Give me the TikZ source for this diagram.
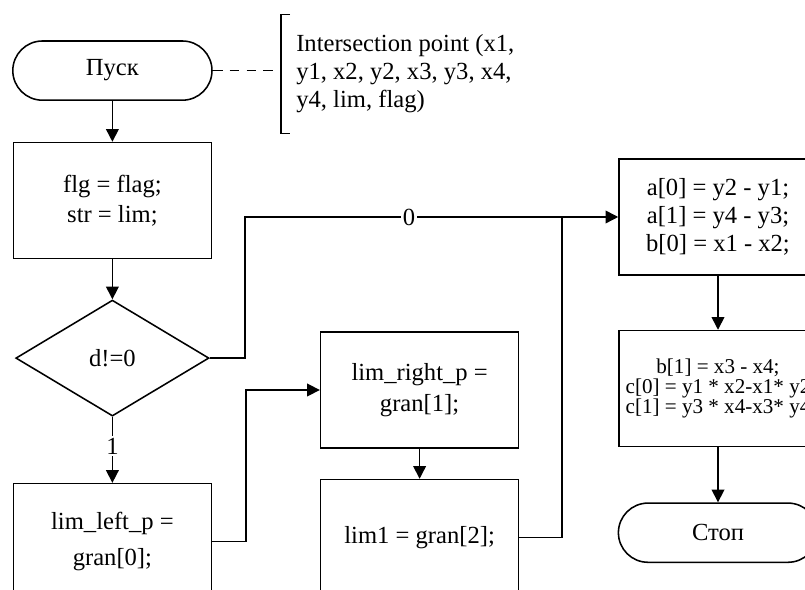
\documentclass[tikz,border=0pt]{standalone}
\usepackage{fontspec}
\setmainfont{Liberation Serif}
\usetikzlibrary{shapes.geometric,arrows.meta,positioning}

\begin{document}
\begin{tikzpicture}[
        node distance=1cm and 1.5cm,
        proc/.style={rectangle, draw=black, line width=1.1pt, minimum width=4.95cm, minimum height=2.9cm, align=center, font=\fontsize{17.5}{20}\selectfont},
        term/.style={rectangle, draw=black, line width=1.1pt, rounded corners=0.74cm, minimum width=4.98cm, minimum height=1.48cm, align=center, font=\fontsize{17.5}{20}\selectfont},
        cond/.style={diamond, draw=black, line width=1.1pt, minimum width=4.83cm, minimum height=2.9cm, inner sep=0pt, align=center, font=\fontsize{17.5}{20}\selectfont},
        note/.style={rectangle, minimum height=2.95cm, inner xsep=0.375cm, align=left, font=\fontsize{17.5}{20}\selectfont},
        lbl/.style={fill=white, inner sep=1.5pt, font=\fontsize{17.5}{20}\selectfont},
        arrow/.style={-{Triangle[length=9pt, width=9pt]}, line width=1.1pt},
        line/.style={line width=1.1pt},
        dline/.style={line width=1.1pt, dash pattern=on 7pt off 5pt}
    ]
        \clip (0,0) rectangle (20.125,14.725);

        % Left column
        \node[term] (start) at (2.81,12.96) {Пуск};
        \node[proc, below=1.02cm of start, font=\fontsize{17.5}{21}\selectfont] (init) {flg = flag;\\ str = lim;};
        \node[cond, below=1cm of init] (check) {d!=0};
        \node[proc, below=1.65cm of check, font=\fontsize{17.5}{26}\selectfont] (leftp) {lim\_left\_p =\\ gran[0];};

        % Middle column
        \node[proc, font=\fontsize{17.5}{22}\selectfont] (rightp) at (10.49,4.975) {lim\_right\_p =\\ gran[1];};
        \node[proc, below=0.75cm of rightp] (lim1) {lim1 = gran[2];};

        % Right column
        \node[proc] (coefa) at (17.95,9.3) {a[0] = y2 - y1;\\ a[1] = y4 - y3;\\ b[0] = x1 - x2;};
        \node[proc, below=1.35cm of coefa, font=\fontsize{15}{14.5}\selectfont] (coefc) {b[1] = x3 - x4;\\ c[0] = y1 * x2-x1* y2\\ c[1] = y3 * x4-x3* y4};
        \node[term, below=1.375cm of coefc] (stop) {Стоп};

        % Comment
        \node[note, anchor=west] (note) at (7.025,12.875) {Intersection point (x1,\\ y1, x2, y2, x3, y3, x4,\\ y4, lim, flag)};
        \draw[line] ([xshift=0.225cm]note.north west) -- (note.north west) -- (note.south west) -- ([xshift=0.225cm]note.south west);
        \draw[dline] (start.east) -- (start.east -| note.west);

        \coordinate (join) at (14.05,9.3);

        % Connections
        \draw[arrow] (start) -- (init);
        \draw[arrow] (init) -- (check);
        \draw[arrow] (check.east) -- ++(0.875,0) |- node[lbl, pos=0.72] {0} (coefa.west);
        \draw[arrow] (check) -- node[lbl, pos=0.44] {1} (leftp);
        \draw[arrow] (leftp.east) -- ++(0.85,0) |- (rightp.west);
        \draw[arrow] (rightp) -- (lim1);
        \draw[line] (lim1.east) -| (join);
        \draw[arrow] (coefa) -- (coefc);
        \draw[arrow] (coefc) -- (stop);
    \end{tikzpicture}
\end{document}
